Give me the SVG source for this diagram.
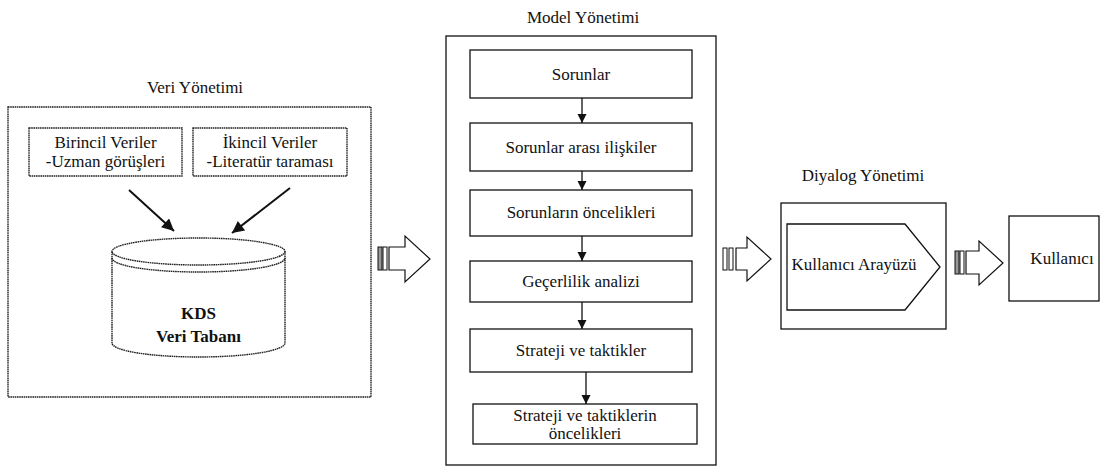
<svg xmlns="http://www.w3.org/2000/svg" width="1103" height="476" viewBox="0 0 1103 476">
<style>
text{font-size:17px;fill:#111;text-anchor:middle}
.b{font-weight:bold}
.dot{fill:none;stroke:#222;stroke-width:1.4;stroke-dasharray:1.6 0.6}
.box{fill:#fff;stroke:#111;stroke-width:1.3}
.ln{stroke:#111;stroke-width:1.3;fill:none}
.ln2{stroke:#111;stroke-width:2;fill:none}
.big{fill:#fff;stroke:#111;stroke-width:1.2}
.bar1{fill:#999;stroke:#111;stroke-width:1}
.bar2{fill:#fff;stroke:#111;stroke-width:1}
</style>
<defs>
<marker id="ah" viewBox="0 0 10 10" refX="10" refY="5" markerWidth="9" markerHeight="10" markerUnits="userSpaceOnUse" orient="auto">
<path d="M0,0 L10,5 L0,10 Z" fill="#111"/>
</marker>
<marker id="ah2" viewBox="0 0 10 10" refX="10" refY="5" markerWidth="14" markerHeight="12" markerUnits="userSpaceOnUse" orient="auto">
<path d="M0,0 L10,5 L0,10 Z" fill="#111"/>
</marker>
</defs>
<g font-family="Liberation Serif, Times New Roman, serif">
<g id="veri-yonetimi">
<text x="195" y="93">Veri Yönetimi</text>
<rect class="dot" x="8" y="107" width="363" height="290"/>
</g>
<g id="birincil">
<rect class="dot" x="29" y="128" width="153" height="48"/>
<text x="105.5" y="148">Birincil Veriler</text>
<text x="105.5" y="167">-Uzman görüşleri</text>
</g>
<g id="ikincil">
<rect class="dot" x="193" y="128" width="154" height="48"/>
<text x="270" y="148">İkincil Veriler</text>
<text x="270" y="167">-Literatür taraması</text>
</g>
<g id="kds">
<path class="dot" d="M112,251.5 L112,343 A86.5,14 0 0 0 285,343 L285,251.5"/>
<ellipse class="dot" cx="198.5" cy="251.5" rx="86.5" ry="13.5"/>
<path class="dot" d="M112,258 A86.5,14 0 0 0 285,258"/>
<text class="b" x="198.5" y="319">KDS</text>
<text class="b" x="198.5" y="342">Veri Tabanı</text>
</g>

<g id="model-yonetimi">
<text x="583" y="23">Model Yönetimi</text>
<rect class="box" x="446" y="36" width="270" height="429"/>
</g>
<g id="sorunlar">
<rect class="box" x="470" y="50" width="222" height="48"/>
<text x="581" y="80">Sorunlar</text>
</g>
<g id="iliskiler">
<rect class="box" x="470" y="123" width="222" height="48"/>
<text x="581" y="153">Sorunlar arası ilişkiler</text>
</g>
<g id="oncelikler">
<rect class="box" x="470" y="190" width="222" height="46"/>
<text x="581" y="218">Sorunların öncelikleri</text>
</g>
<g id="gecerlilik">
<rect class="box" x="470" y="261" width="222" height="41"/>
<text x="581" y="287">Geçerlilik analizi</text>
</g>
<g id="strateji">
<rect class="box" x="470" y="329" width="222" height="43"/>
<text x="581" y="356">Strateji ve taktikler</text>
</g>
<g id="strateji-oncelik">
<rect class="box" x="473" y="404" width="224" height="40"/>
<text x="585" y="421">Strateji ve taktiklerin</text>
<text x="585" y="439">öncelikleri</text>
</g>

<g id="diyalog-yonetimi">
<text x="863" y="181">Diyalog Yönetimi</text>
<rect class="box" x="781" y="203" width="165" height="126"/>
</g>
<g id="kullanici-arayuzu">
<polygon class="box" points="787,224 905,224 940,267 905,310 787,310"/>
<text x="854" y="270">Kullanıcı Arayüzü</text>
</g>
<g id="kullanici">
<rect class="box" x="1009" y="216" width="90" height="85"/>
<text x="1062" y="264">Kullanıcı</text>
</g>
</g>
<g id="connectors">
<line class="ln2" x1="129" y1="190" x2="174" y2="231" marker-end="url(#ah2)"/>
<line class="ln2" x1="290" y1="188" x2="232" y2="233" marker-end="url(#ah2)"/>
<line class="ln" x1="582" y1="98" x2="582" y2="123" marker-end="url(#ah)"/>
<line class="ln" x1="582" y1="171" x2="582" y2="190" marker-end="url(#ah)"/>
<line class="ln" x1="582" y1="236" x2="582" y2="261" marker-end="url(#ah)"/>
<line class="ln" x1="582" y1="302" x2="582" y2="329" marker-end="url(#ah)"/>
<line class="ln" x1="586" y1="372" x2="586" y2="404" marker-end="url(#ah)"/>

<g id="bigarrow1">
<rect class="bar1" x="378" y="247" width="4" height="23"/>
<rect class="bar2" x="383" y="247" width="4" height="23"/>
<polygon class="big" points="389,247 405,247 405,236 430,259 405,282 405,270 389,270"/>
</g>
<g id="bigarrow2">
<rect class="bar2" x="723" y="248" width="4" height="22"/>
<rect class="bar2" x="729" y="248" width="4" height="22"/>
<polygon class="big" points="736,248 747,248 747,237 771,259 747,281 747,270 736,270"/>
</g>
<g id="bigarrow3">
<rect class="bar1" x="955" y="251" width="4" height="23"/>
<rect class="bar2" x="960" y="251" width="4" height="23"/>
<polygon class="big" points="966,251 979,251 979,241 1003,263 979,285 979,274 966,274"/>
</g>
</g>
</svg>
